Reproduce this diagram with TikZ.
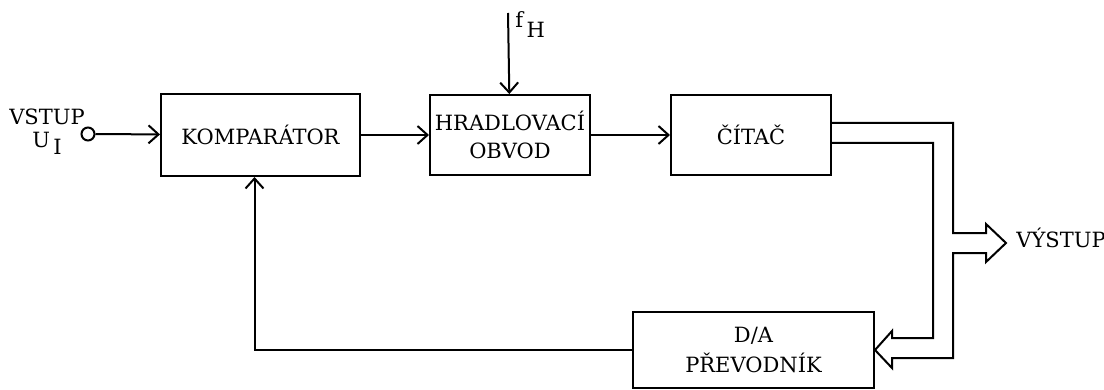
\documentclass[tikz,border=0pt]{standalone}
\usepackage{fontspec}
\setmainfont{DejaVu Serif}
\usetikzlibrary{arrows.meta, positioning}

\begin{document}
\begin{tikzpicture}[x=0.5pt, y=-0.5pt, % 1 unit = 1 px of the original
          block/.style={draw, line width=1pt, minimum width=80pt, minimum height=40pt, inner sep=0pt, align=center, font=\fontsize{10.5}{14}\selectfont},
          arr/.style={line width=1pt, -{Straight Barb[length=5pt, width=9pt]}},
          bus/.style={line width=1pt, line join=miter},
          lbl/.style={inner sep=0pt, font=\fontsize{10.5}{14}\selectfont}
        ]
        \useasboundingbox (0,0) rectangle (1104,390);
        % Bloky
        \node[block, minimum width=99.5pt, minimum height=41pt] (komp) at (260.5,135) {KOMPARÁTOR};
        \node[block, right=34pt of komp] (hrad) {HRADLOVACÍ\\OBVOD};
        \node[block, right=39.5pt of hrad] (citac) {ČÍTAČ};
        \node[block, minimum width=120.5pt, minimum height=38pt, font=\fontsize{10.5}{15}\selectfont] (dac) at (753.5,350) {D/A\\PŘEVODNÍK};

        % Vstup
        \node[circle, draw, line width=1pt, minimum size=6.5pt, inner sep=0pt] (vstup) at (88,134) {};
        \node[lbl, anchor=base] at (47,125) {VSTUP};
        \node[lbl, anchor=base] at (47,148) {U\,\raisebox{-3.5pt}{I}};
        \draw[arr] (vstup) -- (komp);

        % Hodiny
        \coordinate (fh) at (508,13);
        \node[lbl, anchor=base west] at (515,28) {f\,\raisebox{-5pt}{H}};
        \draw[arr] (fh) -- (hrad);

        \draw[arr] (komp) -- (hrad);
        \draw[arr] (hrad) -- (citac);

        % Zpetna vazba
        \draw[arr] (dac.west) -| ([xshift=-3pt]komp.south);

        % Sbernice vystup / prevodnik
        \draw[bus] (citac.east |- 0,123) -- (953,123) -- (953,233) -- (986,233) -- (986,224)
              -- (1006,243) -- (986,262) -- (986,253) -- (953,253) -- (953,358) -- (892,358)
              -- (892,368) -- (dac.east) -- (892,331) -- (892,338) -- (933,338) -- (933,143)
              -- (citac.east |- 0,143);
        \node[lbl, anchor=base west] at (1016,248) {VÝSTUP};
\end{tikzpicture}
\end{document}
